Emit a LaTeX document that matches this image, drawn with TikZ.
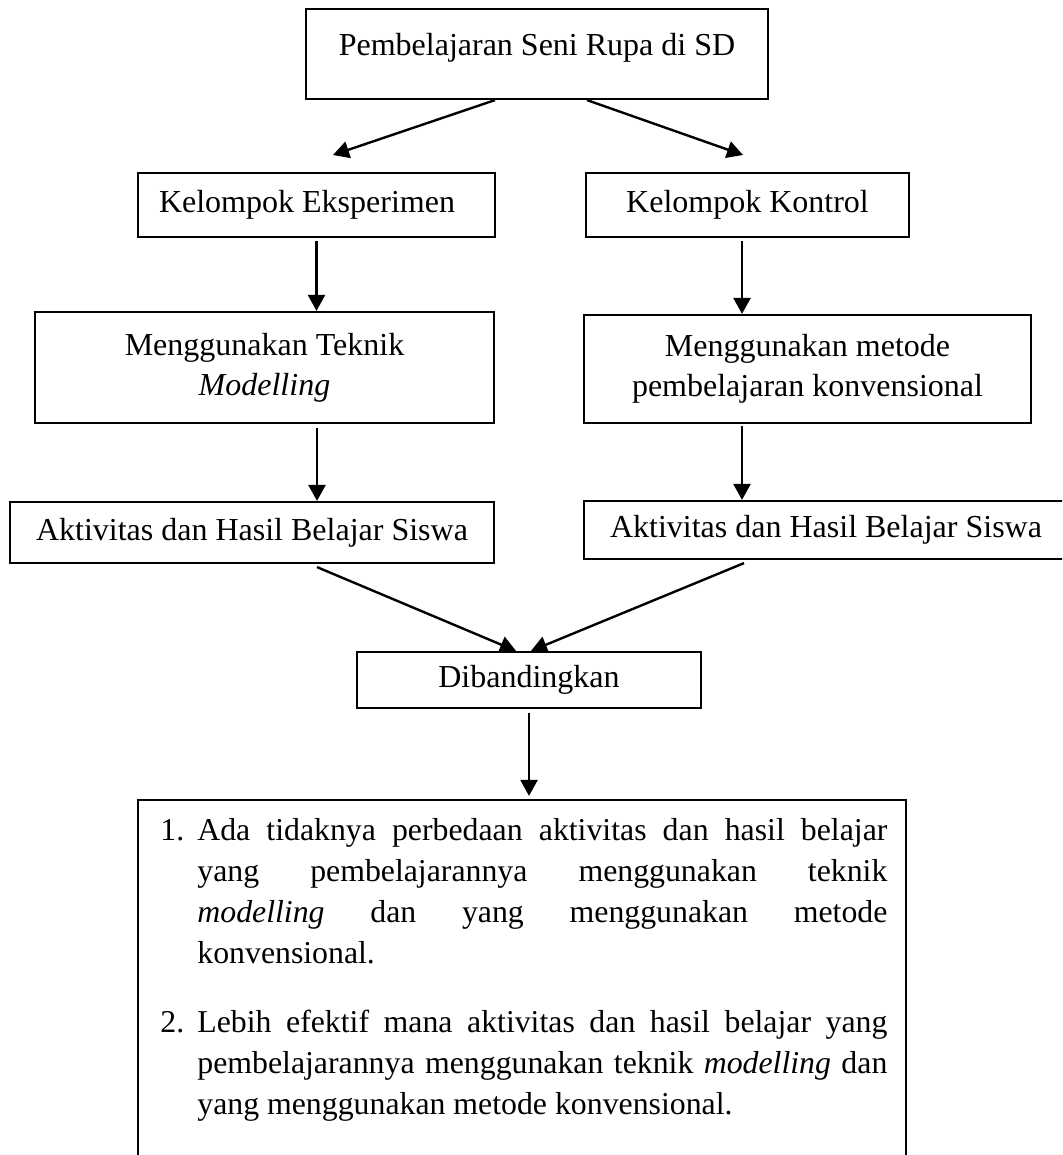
\documentclass[tikz,border=0pt]{standalone}
\usepackage{fontspec}
\setmainfont{Liberation Serif}
\usetikzlibrary{arrows.meta}
\begin{document}
\begin{tikzpicture}[x=0.5pt,y=-0.5pt,
  box/.style={draw, line width=1.1pt, inner sep=0pt, font=\fontsize{16}{20}\selectfont},
  arr/.style={-{Triangle[length=8pt,width=8.5pt]}, line width=1.2pt},
  restext/.style={inner sep=0pt, text width=363.5pt, align=justify, anchor=north west,
    font=\fontsize{15.9}{20.5}\selectfont}]
\clip (0,0) rectangle (1062,1155);
% boxes
\node[box, minimum width=231pt, minimum height=45pt, text height=10pt, text depth=8pt] (top) at (537,54) {Pembelajaran Seni Rupa di SD};
\node[box, minimum width=178.5pt, minimum height=32pt] (ke) at (316.5,205) {Kelompok Eksperimen\kern9.5pt};
\node[box, minimum width=161.5pt, minimum height=32pt] (kk) at (747.5,205) {Kelompok Kontrol};
\node[box, align=center, minimum width=229.5pt, minimum height=55.5pt] (mt) at (264.5,367.5) {Menggunakan Teknik\\\textit{Modelling}};
\node[box, align=center, minimum width=223.5pt, minimum height=54pt] (mk) at (807.5,369) {Menggunakan metode\\pembelajaran konvensional};
\node[box, minimum width=242pt, minimum height=30.5pt] (al) at (252,532.5) {Aktivitas dan Hasil Belajar Siswa};
\node[box, minimum width=242pt, minimum height=29pt] (ar) at (826,530) {Aktivitas dan Hasil Belajar Siswa};
\node[box, minimum width=172pt, minimum height=28pt] (dib) at (529,680) {Dibandingkan};
\node[box, minimum width=384pt, minimum height=190pt] (res) at (522,990) {};
\node[restext] (rtext) at (160,818) {\hyphenpenalty=10000\exhyphenpenalty=10000\tolerance=10000%
\hangindent=18.5pt\hangafter=1\noindent\makebox[18.5pt][l]{1.}Ada tidaknya perbedaan aktivitas dan hasil belajar\linebreak
yang pembelajarannya menggunakan teknik\linebreak
\textit{modelling} dan yang menggunakan metode\linebreak
konvensional.\par
\vspace{14pt}
\hangindent=18.5pt\hangafter=1\noindent\makebox[18.5pt][l]{2.}Lebih efektif mana aktivitas dan hasil belajar yang\linebreak
pembelajarannya menggunakan teknik \textit{modelling} dan\linebreak
yang menggunakan metode konvensional.\par};
% connectors
\coordinate (e1) at (333,155);
\coordinate (e2) at (743,155);
\draw[arr] ([xshift=-21pt]top.south) -- (e1);
\draw[arr] ([xshift=25pt]top.south) -- (e2);
\coordinate (s1) at ([yshift=-1.5pt]ke.south);
\draw[arr] (s1) -- (s1 |- mt.north);
\coordinate (s2) at ([xshift=-2.75pt,yshift=-1.5pt]kk.south);
\draw[arr] (s2) -- (s2 |- mk.north);
\coordinate (s3) at ([xshift=26.25pt,yshift=-2pt]mt.south);
\draw[arr] (s3) -- (s3 |- al.north);
\coordinate (s4) at ([xshift=-32.75pt,yshift=-1pt]mk.south);
\draw[arr] (s4) -- (s4 |- ar.north);
\draw[arr] ([xshift=32.5pt,yshift=-1.5pt]al.south) -- ([xshift=-6.5pt]dib.north);
\draw[arr] ([xshift=-41pt,yshift=-1.5pt]ar.south) -- ([xshift=1pt]dib.north);
\coordinate (s5) at ([yshift=-2pt]dib.south);
\draw[arr] (s5) -- ([yshift=1.5pt]s5 |- res.north);
\end{tikzpicture}
\end{document}
